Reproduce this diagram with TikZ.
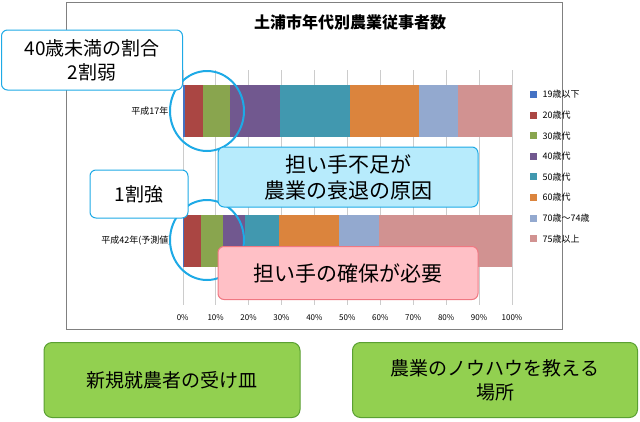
\documentclass[tikz,border=0pt]{standalone}
\usepackage{fontspec}
\setmainfont{Noto Sans CJK JP}
\usetikzlibrary{shapes.geometric}
\definecolor{ageA}{RGB}{68,114,196}
\definecolor{ageB}{RGB}{170,70,67}
\definecolor{ageC}{RGB}{137,165,78}
\definecolor{ageD}{RGB}{113,88,143}
\definecolor{ageE}{RGB}{65,152,175}
\definecolor{ageF}{RGB}{219,132,61}
\definecolor{ageG}{RGB}{147,169,207}
\definecolor{ageH}{RGB}{209,146,145}
\definecolor{calloutblue}{RGB}{30,170,230}
\definecolor{causefill}{RGB}{183,235,252}
\definecolor{needfill}{RGB}{255,192,198}
\definecolor{needline}{RGB}{240,120,130}
\definecolor{greenfill}{RGB}{146,208,80}
\definecolor{greenline}{RGB}{90,160,50}

\begin{document}
\begin{tikzpicture}[x=1pt,y=-1pt]
    % Define styles
    \tikzstyle{callout} = [rectangle, rounded corners=6pt, draw=calloutblue, line width=1pt, fill=white, align=center, font=\fontsize{19}{24}\selectfont]
    \tikzstyle{cause} = [rectangle, rounded corners=6pt, draw=calloutblue, line width=1pt, fill=causefill, align=center, font=\fontsize{21}{26}\selectfont]
    \tikzstyle{need} = [rectangle, rounded corners=6pt, draw=needline, line width=1pt, fill=needfill, align=center, font=\fontsize{21}{26}\selectfont]
    \tikzstyle{role} = [rectangle, rounded corners=8pt, draw=greenline, line width=1pt, fill=greenfill, align=center, font=\fontsize{19}{24}\selectfont]
    \tikzstyle{ring} = [ellipse, draw=calloutblue, line width=2pt, minimum width=74pt, minimum height=80pt]
    \tikzstyle{tick} = [font=\fontsize{8}{9}\selectfont]
    \useasboundingbox (0,0) rectangle (640,421);

    % Chart frame
    \node[draw=gray, minimum width=496pt, minimum height=327pt, anchor=north west, inner sep=0pt] (chart) at (66,2) {};
    \node[font=\bfseries\fontsize{16}{18}\selectfont] (title) at (350,22) {土浦市年代別農業従事者数};

    % Grid and axis
    \foreach \p in {0,10,...,100} {
        \draw[gray!40] ({182.7+3.293*\p},70) -- ({182.7+3.293*\p},305);
        \node[tick] (t\p) at ({182.7+3.293*\p},318) {\p\%};
    }

    % Bars
    \foreach \a/\b/\c in {0/0.7/ageA,0.7/6.2/ageB,6.2/14.4/ageC,14.4/29.5/ageD,29.5/50.8/ageE,50.8/71.9/ageF,71.9/83.7/ageG,83.7/100/ageH}
        \fill[\c] ({182.7+3.293*\a},85) rectangle ({182.7+3.293*\b},137);
    \foreach \a/\b/\c in {0/0.4/ageA,0.4/5.5/ageB,5.5/12.1/ageC,12.1/18.9/ageD,18.9/29.2/ageE,29.2/47.5/ageF,47.5/59.7/ageG,59.7/100/ageH}
        \fill[\c] ({182.7+3.293*\a},215) rectangle ({182.7+3.293*\b},267);
    \node[tick, anchor=east, font=\fontsize{9}{10}\selectfont] (y17) at (172,111) {平成17年};
    \node[tick, anchor=east, font=\fontsize{9}{10}\selectfont] (y42) at (175,241) {平成42年(予測値)};

    % Legend
    \foreach \c/\t [count=\i] in {ageA/19歳以下,ageB/20歳代,ageC/30歳代,ageD/40歳代,ageE/50歳代,ageF/60歳代,ageG/70歳～74歳,ageH/75歳以上} {
        \fill[\c] (530,{91+20.6*(\i-1)}) rectangle (537,{98+20.6*(\i-1)});
        \node[tick, anchor=west, font=\fontsize{9}{10}\selectfont] (leg\i) at (539,{94.5+20.6*(\i-1)}) {\t};
    }

    % Rings and callouts
    \node[ring] (ring17) at (207,111) {};
    \node[ring] (ring42) at (207,240) {};
    \node[callout, minimum width=181pt, minimum height=60pt] (under40) at (92,60) {40歳未満の割合\\2割弱};
    \node[callout, minimum width=98pt, minimum height=48pt] (tenth) at (139,194) {1割強};
    \node[cause, minimum width=260pt, minimum height=60pt] (cause) at (348,177) {担い手不足が\\農業の衰退の原因};
    \node[need, minimum width=260pt, minimum height=53pt] (need) at (348,273) {担い手の確保が必要};

    % Roles
    \node[role, minimum width=256pt, minimum height=75pt] (entry) at (172,380) {新規就農者の受け皿};
    \node[role, minimum width=285pt, minimum height=75pt] (knowhow) at (495,380) {農業のノウハウを教える\\場所};
\end{tikzpicture}
\end{document}
